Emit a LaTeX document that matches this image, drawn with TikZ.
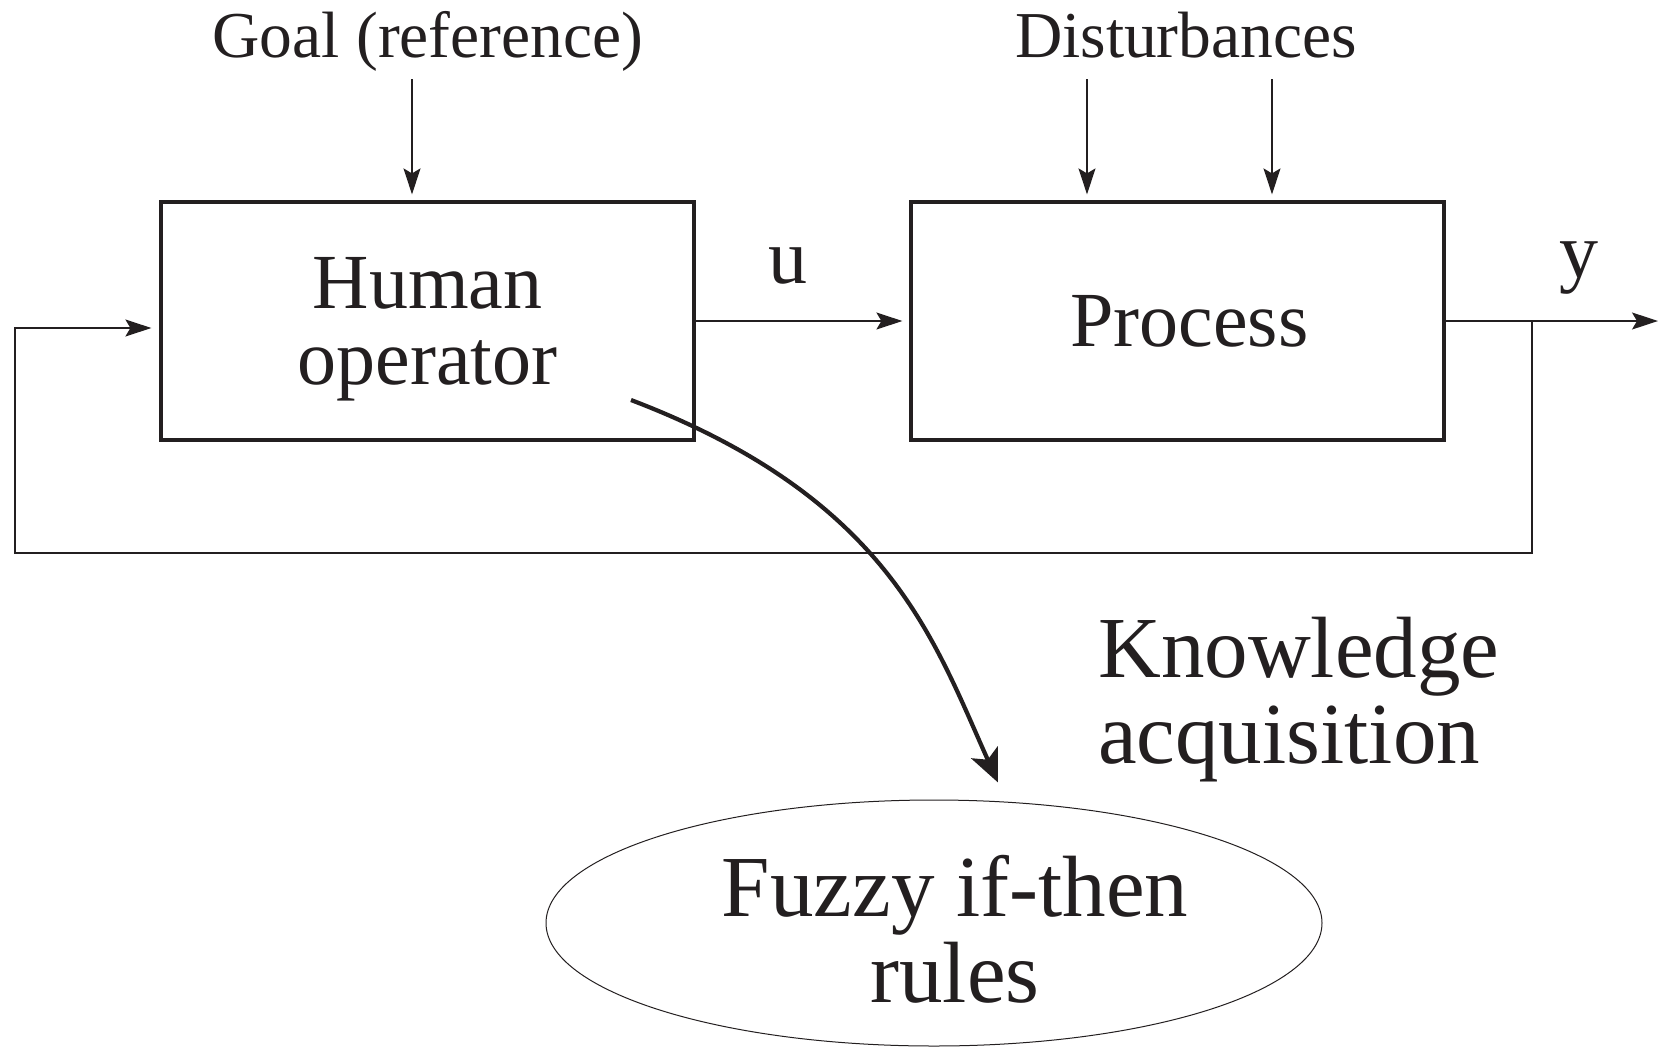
\documentclass[tikz,border=0pt]{standalone}
\usepackage{fontspec}
\setmainfont{Liberation Serif}
\usetikzlibrary{arrows.meta,shapes.geometric}
\definecolor{ink}{HTML}{231F20}
\begin{document}
\begin{tikzpicture}[x=1pt,y=-1pt,
  block/.style={draw=ink,line width=3.2pt,minimum width=533pt,minimum height=238pt,
    inner sep=0pt,text=ink,align=center,font=\fontsize{78}{76}\selectfont},
  toplabel/.style={text=ink,inner sep=0pt,font=\fontsize{65.5}{70}\selectfont},
  siglabel/.style={text=ink,inner sep=0pt,font=\fontsize{78}{76}\selectfont},
  biglabel/.style={text=ink,inner sep=0pt,font=\fontsize{87}{86}\selectfont},
  wire/.style={draw=ink,line width=1.3pt},
  sigarrow/.style={wire,-{Stealth[length=26pt,width=17pt,inset=5pt]}},
  kaarrow/.style={draw=ink,line width=4.2pt,-{Stealth[length=33pt,width=29pt,inset=8pt]}}
]
\useasboundingbox (0,0) rectangle (1658,1047);

% blocks of the loop
\node[block] (hum) at (427.5,321) [text depth=0pt] {Human\\operator};
\node[block] (proc) at (1177.5,321) {\hspace*{24pt}Process};

% labels above the blocks
\node[toplabel,anchor=base] (goal) at (428,57) {Goal (reference)};
\node[toplabel,anchor=base] (dist) at (1186,57) {Disturbances};

% input arrows
\coordinate (goalin) at (412,79);
\coordinate (dist1) at (1087,79);
\coordinate (dist2) at (1272,79);
\draw[sigarrow,shorten >=6pt] (goalin) -- (goalin |- hum.north);
\draw[sigarrow,shorten >=6pt] (dist1) -- (dist1 |- proc.north);
\draw[sigarrow,shorten >=6pt] (dist2) -- (dist2 |- proc.north);

% control signal u
\node[siglabel,anchor=base] (ulbl) at (788,283) {u};
\draw[sigarrow,shorten >=7pt] (hum.east) -- (proc.west);

% output y and feedback
\node[siglabel,anchor=base] (ylbl) at (1579,277) {y};
\coordinate (yout) at (1658,321);
\coordinate (branch) at (1532,321);
\coordinate (fbl) at (15,328);
\draw[sigarrow] (proc.east) -- (yout);
\draw[sigarrow,shorten >=8pt] (branch) -- (1532,553) -- (15,553) -- (fbl) -- (fbl -| hum.west);

% knowledge acquisition
\node[biglabel,align=left,anchor=west] (know) at (1098,700) {Knowledge\\acquisition};
\node[draw=ink,line width=1pt,ellipse,minimum width=776pt,minimum height=246pt,inner sep=0pt] (rshape) at (934,923) {};
\node[biglabel,align=center] (rules) at (955,929) {Fuzzy if-then\\rules};
\coordinate (kstart) at (631,400);
\coordinate (kend) at (998,782.5);
\draw[kaarrow] (kstart) .. controls (888,498) and (933,638) .. (kend);
\end{tikzpicture}
\end{document}
